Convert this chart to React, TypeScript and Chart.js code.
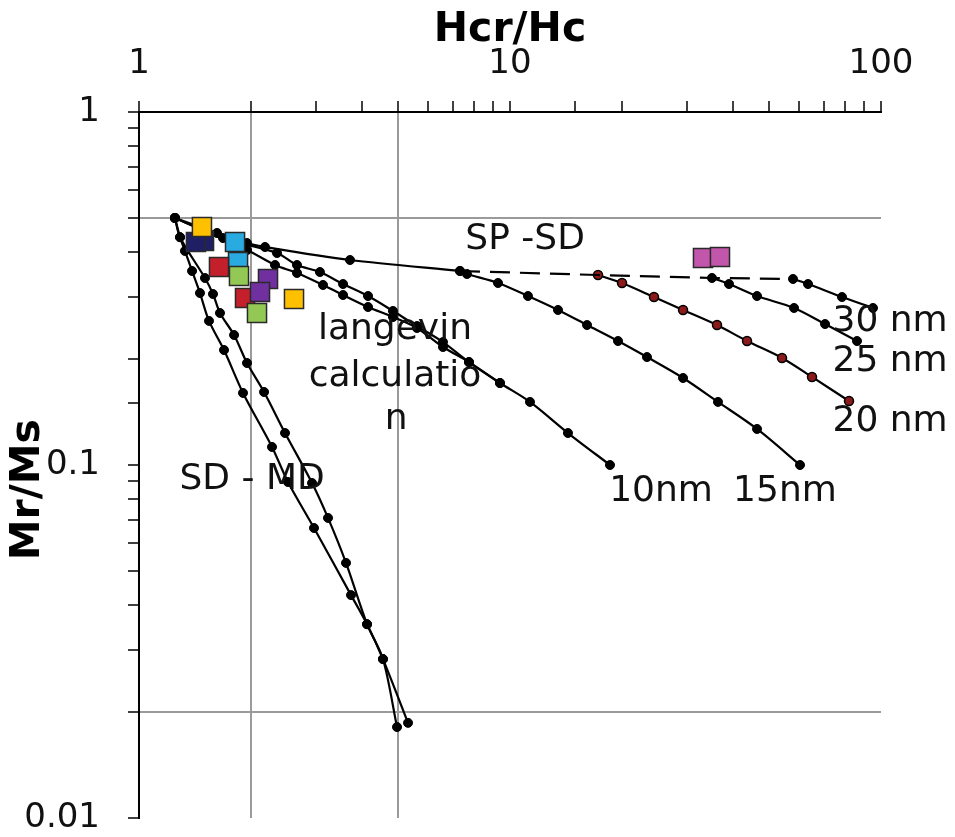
import React, { useEffect, useRef } from 'react';
import { Chart, registerables } from 'chart.js';

Chart.register(...registerables);

// ---- SD - MD mixing curves ----
const sdmdA_x = [1.25, 1.29, 1.33, 1.39, 1.46, 1.544, 1.695, 1.907, 2.283, 2.521, 2.963, 3.728, 4.118, 4.546, 5.311];
const sdmdA_y = [0.501, 0.442, 0.404, 0.3545, 0.307, 0.256, 0.2117, 0.16, 0.1125, 0.0895, 0.0663, 0.0428, 0.0354, 0.0282, 0.0186];
const sdmdB_x = [1.25, 1.29, 1.506, 1.583, 1.653, 1.804, 1.955, 2.173, 2.475, 2.927, 3.232, 3.614, 4.118, 4.546, 4.96];
const sdmdB_y = [0.501, 0.442, 0.3386, 0.305, 0.2695, 0.2335, 0.1945, 0.161, 0.1232, 0.0889, 0.0708, 0.0528, 0.0354, 0.0282, 0.0181];

// ---- SP - SD curves ----
const top_x = [1.25, 1.623, 1.955, 2.186, 3.705, 7.331];
const top_y = [0.501, 0.4543, 0.4254, 0.4145, 0.3808, 0.3545];
const spsd_x = [7.331, 17.27, 35.03, 57.92];
const spsd_y = [0.3545, 0.3453, 0.3387, 0.3365];
const nm10_x = [1.25, 1.684, 2.355, 2.666, 3.074, 3.548, 4.143, 4.837, 5.614, 6.597, 7.753, 9.398, 11.32, 14.33, 18.6];
const nm10_y = [0.501, 0.4395, 0.3986, 0.3686, 0.3521, 0.3256, 0.3011, 0.2731, 0.2475, 0.223, 0.1957, 0.1707, 0.1509, 0.1232, 0.1];
const lang_x = [1.25, 1.955, 2.326, 2.666, 3.133, 3.548, 4.143, 4.837, 5.614, 6.597, 7.753, 9.398];
const lang_y = [0.501, 0.4064, 0.3686, 0.3499, 0.3236, 0.3031, 0.2803, 0.2626, 0.2444, 0.2159, 0.1957, 0.1707];
const nm15_x = [7.331, 7.656, 9.283, 11.18, 13.47, 16.13, 19.55, 23.4, 29.27, 36.36, 46.33, 60.49];
const nm15_y = [0.3545, 0.3476, 0.3278, 0.3011, 0.2749, 0.2492, 0.2245, 0.2022, 0.1764, 0.1509, 0.1265, 0.1];
const nm20_x = [17.27, 20.04, 24.44, 29.27, 36.14, 43.54, 54.1, 65.17, 81.99];
const nm20_y = [0.3453, 0.3278, 0.2991, 0.2749, 0.2492, 0.2245, 0.201, 0.1776, 0.1518];
const nm25_x = [35.03, 38.93, 46.33, 58.29, 70.66, 86.16];
const nm25_y = [0.3387, 0.3256, 0.3011, 0.2785, 0.2508, 0.2245];
const nm30_x = [57.92, 63.57, 78.5, 95.15];
const nm30_y = [0.3365, 0.3256, 0.2991, 0.2785];

// ---- measured samples ----
const yellow_x = [1.478, 2.617];
const yellow_y = [0.4723, 0.2954];
const navy_x = [1.497, 1.424];
const navy_y = [0.431, 0.4283];
const blue_x = [1.849, 1.815];
const blue_y = [0.3759, 0.4283];
const red_x = [1.643, 1.931];
const red_y = [0.3639, 0.2972];
const green_x = [1.86, 2.08];
const green_y = [0.343, 0.2695];
const purple_x = [2.227, 2.119];
const purple_y = [0.3365, 0.309];
const magenta_x = [33.13, 36.81];
const magenta_y = [0.3858, 0.3884];

// ---- axis ----
const xMin = 1, xMax = 100;
const yMin = 0.01, yMax = 1;
const xGridValues = [2, 5];
const yGridValues = [0.5, 0.02];

// ---- text notes ----
const noteText = ['SP -SD', 'langevin', 'calculatio', 'n', 'SD - MD', '10nm', '15nm', '30 nm', '25 nm', '20 nm'];
const noteX = [10.98, 4.898, 4.898, 4.93, 2.017, 25.53, 55.1, 105.8, 105.8, 105.8];
const noteY = [0.434, 0.2412, 0.1776, 0.1341, 0.0907, 0.0838, 0.0838, 0.2541, 0.1957, 0.1323];

const FONT = '"DejaVu Sans", Verdana, sans-serif';

const pts = (xs: number[], ys: number[]) => xs.map((x, i) => ({ x, y: ys[i] }));

const isPow10 = (v: number) => {
  const l = Math.log10(v);
  return Math.abs(l - Math.round(l)) < 1e-6;
};
const inList = (v: number, list: number[]) => list.some((g) => Math.abs(g - v) < 1e-9 * Math.max(1, g) + 1e-12);

const lineDs = (label: string, xs: number[], ys: number[], extra: any = {}) => ({
  label,
  data: pts(xs, ys),
  showLine: true,
  borderColor: '#000',
  borderWidth: 2.2,
  tension: 0.3,
  pointRadius: 4.5,
  pointBorderWidth: 1,
  pointBackgroundColor: '#000',
  pointBorderColor: '#000',
  order: 10,
  ...extra,
});

const squareDs = (label: string, xs: number[], ys: number[], color: string, order: number) => ({
  label,
  data: pts(xs, ys),
  showLine: false,
  pointStyle: 'rect',
  pointRadius: 13.5,
  pointBackgroundColor: color,
  pointBorderColor: '#2a2a2a',
  pointBorderWidth: 1.5,
  order,
});

const notesPlugin = {
  id: 'notes',
  afterDatasetsDraw(chart: any) {
    const { ctx, scales } = chart;
    ctx.save();
    ctx.font = `36px ${FONT}`;
    ctx.fillStyle = '#111';
    ctx.textAlign = 'center';
    ctx.textBaseline = 'middle';
    noteText.forEach((t, i) => {
      ctx.fillText(t, scales.x.getPixelForValue(noteX[i]), scales.y.getPixelForValue(noteY[i]));
    });
    ctx.restore();
  },
};

export default function App() {
  const ref = useRef<HTMLCanvasElement | null>(null);
  useEffect(() => {
    if (!ref.current) return;
    const chart = new Chart(ref.current, {
      type: 'scatter',
      data: {
        datasets: [
          squareDs('yellow', yellow_x, yellow_y, '#ffc000', 1),
          squareDs('magenta', magenta_x, magenta_y, '#c256aa', 1),
          squareDs('purple', purple_x, purple_y, '#7030a0', 2),
          squareDs('green', green_x, green_y, '#92c853', 3),
          squareDs('red', red_x, red_y, '#c4202b', 4),
          squareDs('blue', blue_x, blue_y, '#29abe2', 5),
          squareDs('navy', navy_x, navy_y, '#1f1f66', 6),
          lineDs('SD-MD a', sdmdA_x, sdmdA_y),
          lineDs('SD-MD b', sdmdB_x, sdmdB_y),
          lineDs('top', top_x, top_y),
          lineDs('SP-SD', spsd_x, spsd_y, { pointRadius: 0, borderDash: [20, 10], tension: 0 }),
          lineDs('10nm', nm10_x, nm10_y),
          lineDs('langevin', lang_x, lang_y),
          lineDs('15nm', nm15_x, nm15_y),
          lineDs('20nm', nm20_x, nm20_y, { pointBackgroundColor: '#8b1a1a', pointBorderWidth: 1.5 }),
          lineDs('25nm', nm25_x, nm25_y),
          lineDs('30nm', nm30_x, nm30_y),
        ] as any,
      },
      options: {
        animation: false,
        responsive: false,
        devicePixelRatio: 1,
        layout: { padding: { left: 0, top: 0, right: 74, bottom: 19 } },
        plugins: { legend: { display: false }, tooltip: { enabled: false } },
        scales: {
          x: {
            type: 'logarithmic',
            position: 'top',
            min: xMin,
            max: xMax,
            afterFit: (s: any) => {
              s.height = 112;
              s.paddingLeft = 0;
              s.paddingRight = 0;
            },
            title: {
              display: true,
              text: 'Hcr/Hc',
              color: '#000',
              font: { family: FONT, size: 41, weight: 'bold' },
              padding: { top: 6, bottom: 0 },
            },
            ticks: {
              autoSkip: false,
              maxRotation: 0,
              padding: 16,
              color: '#111',
              font: { family: FONT, size: 34 },
              callback: (v: any) => (isPow10(Number(v)) ? String(Number(v)) : ''),
            },
            grid: {
              drawOnChartArea: true,
              drawTicks: true,
              tickLength: 11,
              tickColor: '#000',
              tickWidth: 1.5,
              lineWidth: 2,
              color: (c: any) => (c.tick && inList(c.tick.value, xGridValues) ? '#9a9a9a' : 'rgba(0,0,0,0)'),
            },
            border: { display: true, color: '#000', width: 2 },
          },
          y: {
            type: 'logarithmic',
            position: 'left',
            min: yMin,
            max: yMax,
            afterFit: (s: any) => {
              s.width = 139;
              s.paddingTop = 0;
              s.paddingBottom = 0;
            },
            title: {
              display: true,
              text: 'Mr/Ms\u2002\u2002\u2009',
              color: '#000',
              font: { family: FONT, size: 41, weight: 'bold' },
              padding: { top: 4, bottom: 0 },
            },
            ticks: {
              autoSkip: false,
              padding: 28,
              color: '#111',
              font: { family: FONT, size: 34 },
              callback: (v: any) => (isPow10(Number(v)) ? String(Number(v)) : ''),
            },
            grid: {
              drawOnChartArea: true,
              drawTicks: true,
              tickLength: 11,
              tickColor: '#000',
              tickWidth: 1.5,
              lineWidth: 2,
              color: (c: any) => (c.tick && inList(c.tick.value, yGridValues) ? '#9a9a9a' : 'rgba(0,0,0,0)'),
            },
            border: { display: true, color: '#000', width: 2 },
          },
        },
      } as any,
      plugins: [notesPlugin],
    });
    return () => chart.destroy();
  }, []);
  return (
    <div style={{ position: 'fixed', left: 0, top: 0, width: 955, height: 837, background: '#fff' }}>
      <canvas ref={ref} width={955} height={837} style={{ display: 'block' }} />
    </div>
  );
}
